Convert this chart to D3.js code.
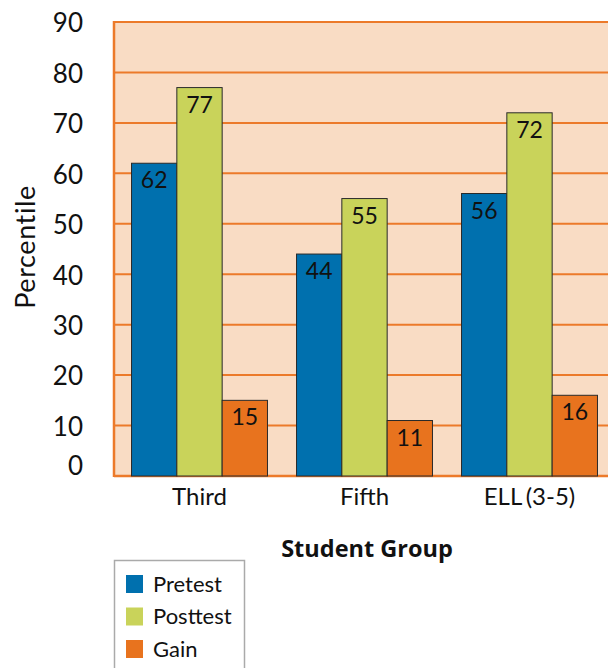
<!DOCTYPE html>
<meta charset="utf-8">
<html>
<head>
<script src="https://d3js.org/d3.v7.min.js"></script>
<style>
  body { margin: 0; background: #fff; }
  svg text { font-family: Lato, "Noto Sans", sans-serif; fill: #111; }
</style>
</head>
<body>
<div id="my_dataviz"></div>
<script>
  // data
  const groups = ["Third", "Fifth", "ELL (3-5)"];
  const seriesNames = ["Pretest", "Posttest", "Gain"];
  const pretest = [62, 44, 56];
  const posttest = [77, 55, 72];
  const gain = [15, 11, 16];
  const yTicks = [0, 10, 20, 30, 40, 50, 60, 70, 80, 90];

  const colors = ["#0070ae", "#c9d35a", "#e8731e"];
  const seriesVals = [pretest, posttest, gain];

  const rows = groups.map((g, i) => ({
    group: g,
    values: seriesNames.map((s, j) => ({key: s, value: seriesVals[j][i], color: colors[j]}))
  }));

  const W = 608, H = 668;
  const plot = {left: 114, top: 22, right: 612, bottom: 476};

  const svg = d3.select("#my_dataviz")
    .append("svg")
      .attr("width", W)
      .attr("height", H);

  const y = d3.scaleLinear().domain([0, 90]).range([plot.bottom, plot.top]);

  const x0 = d3.scaleBand()
    .domain(groups)
    .range([117, 612])
    .paddingInner(0.176)
    .paddingOuter(0.088);

  const x1 = d3.scaleBand()
    .domain(seriesNames)
    .range([0, x0.bandwidth()]);

  // background
  svg.append("rect")
    .attr("x", plot.left)
    .attr("y", plot.top)
    .attr("width", plot.right - plot.left)
    .attr("height", plot.bottom - plot.top)
    .attr("fill", "#f9dcc4");

  // gridlines
  svg.append("g")
    .selectAll("line")
    .data(yTicks.filter(d => d > 0))
    .join("line")
      .attr("x1", plot.left)
      .attr("x2", plot.right)
      .attr("y1", d => y(d))
      .attr("y2", d => y(d))
      .attr("stroke", "#ec7a2a")
      .attr("stroke-width", 2);

  // left + bottom border
  svg.append("line")
    .attr("x1", plot.left).attr("x2", plot.left)
    .attr("y1", plot.top - 1).attr("y2", plot.bottom + 1)
    .attr("stroke", "#ec7a2a").attr("stroke-width", 2.5);
  svg.append("line")
    .attr("x1", plot.left).attr("x2", plot.right)
    .attr("y1", plot.bottom).attr("y2", plot.bottom)
    .attr("stroke", "#ec7a2a").attr("stroke-width", 2.5);

  // y tick labels
  svg.append("g")
    .selectAll("text")
    .data(yTicks)
    .join("text")
      .attr("x", 83)
      .attr("y", d => d === 0 ? y(d) - 10 : y(d) + 1)
      .attr("dy", "0.36em")
      .attr("text-anchor", "end")
      .style("font-size", "26px")
      .text(d => d);

  // bars
  const grp = svg.append("g")
    .selectAll("g")
    .data(rows)
    .join("g")
      .attr("transform", d => `translate(${x0(d.group)},0)`);

  grp.selectAll("rect")
    .data(d => d.values)
    .join("rect")
      .attr("x", d => x1(d.key))
      .attr("y", d => y(d.value))
      .attr("width", x1.bandwidth())
      .attr("height", d => plot.bottom - y(d.value))
      .attr("fill", d => d.color)
      .attr("stroke", "#2a2a2a")
      .attr("stroke-width", 1);

  grp.selectAll("text")
    .data(d => d.values)
    .join("text")
      .attr("x", d => x1(d.key) + x1.bandwidth() / 2)
      .attr("y", d => y(d.value) + 25)
      .attr("text-anchor", "middle")
      .style("font-size", "23px")
      .text(d => d.value);

  // x labels
  svg.append("g")
    .selectAll("text")
    .data(groups)
    .join("text")
      .attr("x", d => x0(d) + x0.bandwidth() / 2)
      .attr("y", 505)
      .attr("text-anchor", "middle")
      .style("font-size", "24px")
      .style("word-spacing", "-2px")
      .text(d => d);

  // axis titles
  svg.append("text")
    .attr("x", 367)
    .attr("y", 557)
    .attr("text-anchor", "middle")
    .style("font-family", "'Open Sans', sans-serif")
    .style("font-size", "23.5px")
    .style("font-weight", "bold")
    .text("Student Group");

  svg.append("text")
    .attr("transform", "translate(35,247) rotate(-90)")
    .attr("text-anchor", "middle")
    .style("font-size", "27px")
    .style("letter-spacing", "0.6px")
    .text("Percentile");

  // legend
  const legend = svg.append("g");
  legend.append("rect")
    .attr("x", 114.5)
    .attr("y", 560.5)
    .attr("width", 130)
    .attr("height", 120)
    .attr("fill", "#fff")
    .attr("stroke", "#aaa")
    .attr("stroke-width", 1.5);

  const li = legend.selectAll("g")
    .data(seriesNames)
    .join("g")
      .attr("transform", (d, i) => `translate(126,${575 + i * 32.5})`);
  li.append("rect")
    .attr("width", 17)
    .attr("height", 18)
    .attr("fill", (d, i) => colors[i]);
  li.append("text")
    .attr("x", 27)
    .attr("y", 9)
    .attr("dy", "0.36em")
    .style("font-size", "22px")
    .text(d => d);
</script>
</body>
</html>
